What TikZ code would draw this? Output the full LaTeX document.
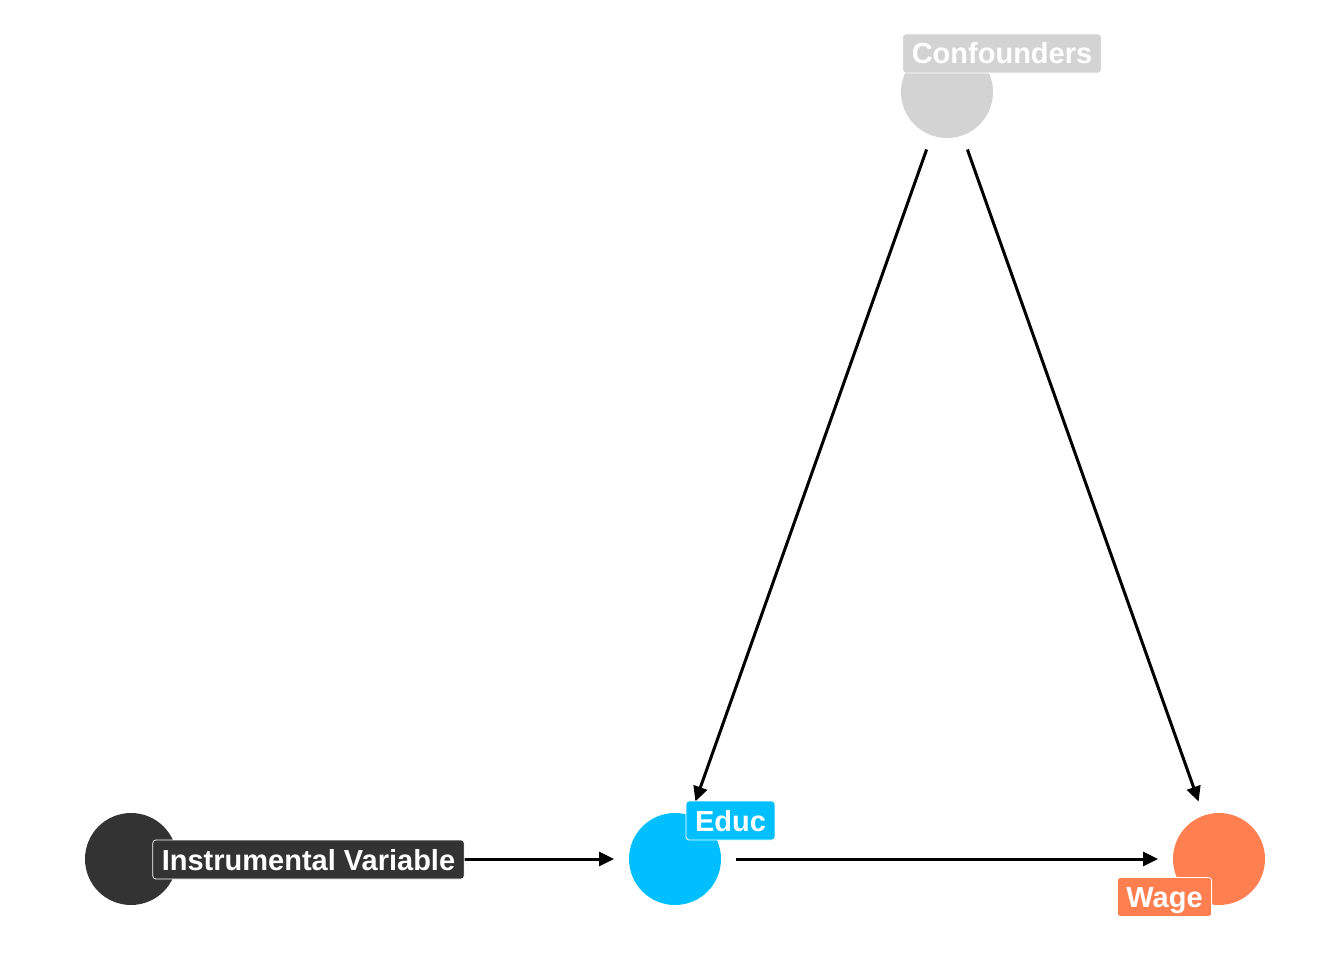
\documentclass[tikz,border=0pt]{standalone}
\usepackage{fontspec}
\setmainfont{Liberation Sans}
\usetikzlibrary{arrows.meta}
\definecolor{ivcol}{HTML}{333333}
\definecolor{educcol}{HTML}{00BFFF}
\definecolor{wagecol}{HTML}{FF7F50}
\definecolor{confcol}{HTML}{D3D3D3}
\tikzset{
  dagnode/.style={circle,minimum size=92pt,inner sep=0pt,outer sep=0pt},
  daglabel/.style={draw=white,line width=0.8pt,rounded corners=3pt,text=white,
    font=\fontsize{29}{29}\selectfont\bfseries,inner xsep=9pt,inner ysep=6pt,
    text height=24pt,text depth=3pt},
  dagedge/.style={line width=3pt,-{Triangle[length=15pt,width=14pt]},
    shorten <=15pt,shorten >=15pt}
}
\begin{document}
\begin{tikzpicture}[x=1pt,y=-1pt]
\useasboundingbox[fill=white] (0,0) rectangle (1344,960);
\node[dagnode,fill=ivcol] (iv) at (131,859) {};
\node[dagnode,fill=educcol] (educ) at (675,859) {};
\node[dagnode,fill=wagecol] (wage) at (1219,859) {};
\node[dagnode,fill=confcol] (conf) at (947,92) {};
\draw[dagedge] (iv) -- (educ);
\draw[dagedge] (educ) -- (wage);
\draw[dagedge] (conf) -- (educ);
\draw[dagedge] (conf) -- (wage);
\node[daglabel,fill=ivcol] (ivl) at (308.5,859.5) {Instrumental Variable};
\node[daglabel,fill=educcol] (educl) at (730.5,820.5) {Educ};
\node[daglabel,fill=wagecol] (wagel) at (1164.5,897) {Wage};
\node[daglabel,fill=confcol] (confl) at (1002,53.5) {Confounders};
\end{tikzpicture}
\end{document}
